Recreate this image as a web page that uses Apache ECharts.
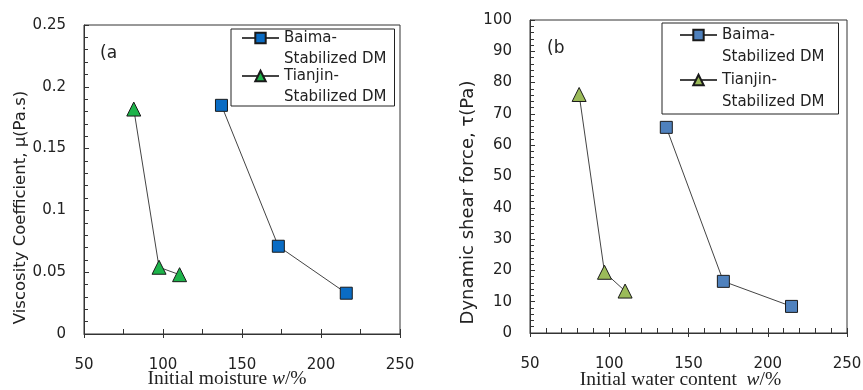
<!DOCTYPE html>
<html>
<head>
<meta charset="utf-8">
<script src="https://cdn.jsdelivr.net/npm/echarts@6/dist/echarts.min.js"></script>
<style>html,body{margin:0;padding:0;background:#fff}#c{width:863px;height:390px}</style>
</head>
<body>
<div id="c"></div>
<script>
// Panel (a): viscosity coefficient vs initial moisture
const baimaW_a = [137, 173, 216];
const baimaMu = [0.185, 0.071, 0.033];
const tianjinW_a = [81.5, 97.5, 110.5];
const tianjinMu = [0.182, 0.054, 0.048];
// Panel (b): dynamic shear force vs initial water content
const baimaW_b = [136, 172, 215];
const baimaTau = [65.7, 16.5, 8.5];
const tianjinW_b = [81, 97, 110];
const tianjinTau = [76.2, 19.4, 13.4];

const legendNames = ['Baima-\nStabilized DM', 'Tianjin-\nStabilized DM'];

const pairs = (xs, ys) => xs.map((x, i) => [x, ys[i]]);
const FONT = 'DejaVu Sans';
const TXT = '#222';
const AX = '#333';

function xAx(grid, minorSplit, name, gap, shift) {
  return {
    type: 'value', gridIndex: grid, position: 'bottom', min: 50, max: 250, interval: 50,
    axisLine: {show: true, lineStyle: {color: AX, width: 1}},
    axisTick: {show: true, inside: true, length: 5, lineStyle: {color: AX}},
    minorTick: {show: true, splitNumber: minorSplit, length: 5, lineStyle: {color: AX}},
    axisLabel: {color: TXT, fontSize: 15, fontFamily: FONT, margin: 24},
    splitLine: {show: false},
    name: name, nameLocation: 'middle', nameGap: gap, nameMoveOverlap: false,
    nameTextStyle: {color: TXT, fontSize: 19.5, fontFamily: 'Liberation Serif', padding: [0, shift, 0, 0],
      rich: {i: {fontStyle: 'italic', fontSize: 19.5, fontFamily: 'Liberation Serif', color: TXT}}}
  };
}
function xOuter(grid) {
  return {
    type: 'value', gridIndex: grid, position: 'bottom', min: 50, max: 250, interval: 50,
    axisLine: {show: false}, axisLabel: {show: false}, splitLine: {show: false},
    axisTick: {show: true, inside: false, length: 4, lineStyle: {color: AX}}
  };
}
function yAx(grid, max, interval, name, gap, fs, shift) {
  return {
    type: 'value', gridIndex: grid, min: 0, max: max, interval: interval,
    axisLine: {show: true, lineStyle: {color: AX, width: 1}},
    axisTick: {show: true, inside: true, length: 5, lineStyle: {color: AX}},
    minorTick: {show: true, splitNumber: 5, length: 4, lineStyle: {color: AX}},
    axisLabel: {color: TXT, fontSize: 15, fontFamily: FONT, margin: 18},
    splitLine: {show: false},
    name: name, nameLocation: 'middle', nameGap: gap, nameMoveOverlap: false,
    nameTextStyle: {color: TXT, fontSize: fs, fontFamily: FONT, padding: [0, shift, 0, 0]}
  };
}
function ser(name, xi, yi, data, symbol, size, color) {
  return {
    name: name, type: 'line', xAxisIndex: xi, yAxisIndex: yi, data: data,
    symbol: symbol, symbolSize: size, showSymbol: true,
    lineStyle: {color: '#444', width: 1},
    itemStyle: {color: color, borderColor: '#1a1a1a', borderWidth: 1},
    emphasis: {disabled: true}, animation: false
  };
}
function legend(left, top, names, lh, gap, pad) {
  return {
    left: left, top: top, orient: 'vertical', data: names,
    itemWidth: 37, itemHeight: 13, itemGap: gap, padding: pad,
    borderColor: '#222', borderWidth: 1, selectedMode: false,
    formatter: n => '\n' + (n.startsWith('B') ? legendNames[0] : legendNames[1]),
    textStyle: {color: TXT, fontSize: 15, fontFamily: FONT, lineHeight: lh}
  };
}

const chart = echarts.init(document.getElementById('c'), null, {renderer: 'canvas'});
chart.setOption({
  animation: false,
  backgroundColor: '#fff',
  grid: [
    {left: 84, top: 25, width: 316, height: 309, outerBoundsMode: 'none', containLabel: false,
     show: true, borderColor: AX, borderWidth: 1, backgroundColor: 'transparent'},
    {left: 530, top: 20, width: 317, height: 313, outerBoundsMode: 'none', containLabel: false,
     show: true, borderColor: AX, borderWidth: 1, backgroundColor: 'transparent'}
  ],
  xAxis: [
    xAx(0, 2, 'Initial moisture {i|w}/%', 35, 30),
    xAx(1, 5, 'Initial water content  {i|w}/%', 37, 16),
    xOuter(0), xOuter(1)
  ],
  yAxis: [
    yAx(0, 0.25, 0.05, 'Viscosity Coefficient, μ(Pa.s)', 55, 16.5, 56),
    yAx(1, 100, 10, 'Dynamic shear force, τ(Pa)', 53, 18, 52)
  ],
  legend: [
    legend(231, 29, ['Baima a', 'Tianjin a'], 21, -25, [-22.5, 8, -1.5, 10]),
    legend(662, 23, ['Baima b', 'Tianjin b'], 22, -21, [-21, 14, 1, 17])
  ],
  graphic: [
    {type: 'text', left: 100, top: 45, style: {text: '(a', fontSize: 17, fontFamily: FONT, fill: TXT}},
    {type: 'text', left: 547, top: 40, style: {text: '(b', fontSize: 17, fontFamily: FONT, fill: TXT}}
  ],
  series: [
    ser('Baima a', 0, 0, pairs(baimaW_a, baimaMu), 'rect', 12, '#0a6cc4'),
    ser('Tianjin a', 0, 0, pairs(tianjinW_a, tianjinMu), 'triangle', 14, '#1db34a'),
    ser('Baima b', 1, 1, pairs(baimaW_b, baimaTau), 'rect', 12, '#4f81bd'),
    ser('Tianjin b', 1, 1, pairs(tianjinW_b, tianjinTau), 'triangle', 14, '#9bbb59')
  ]
});
</script>
</body>
</html>
